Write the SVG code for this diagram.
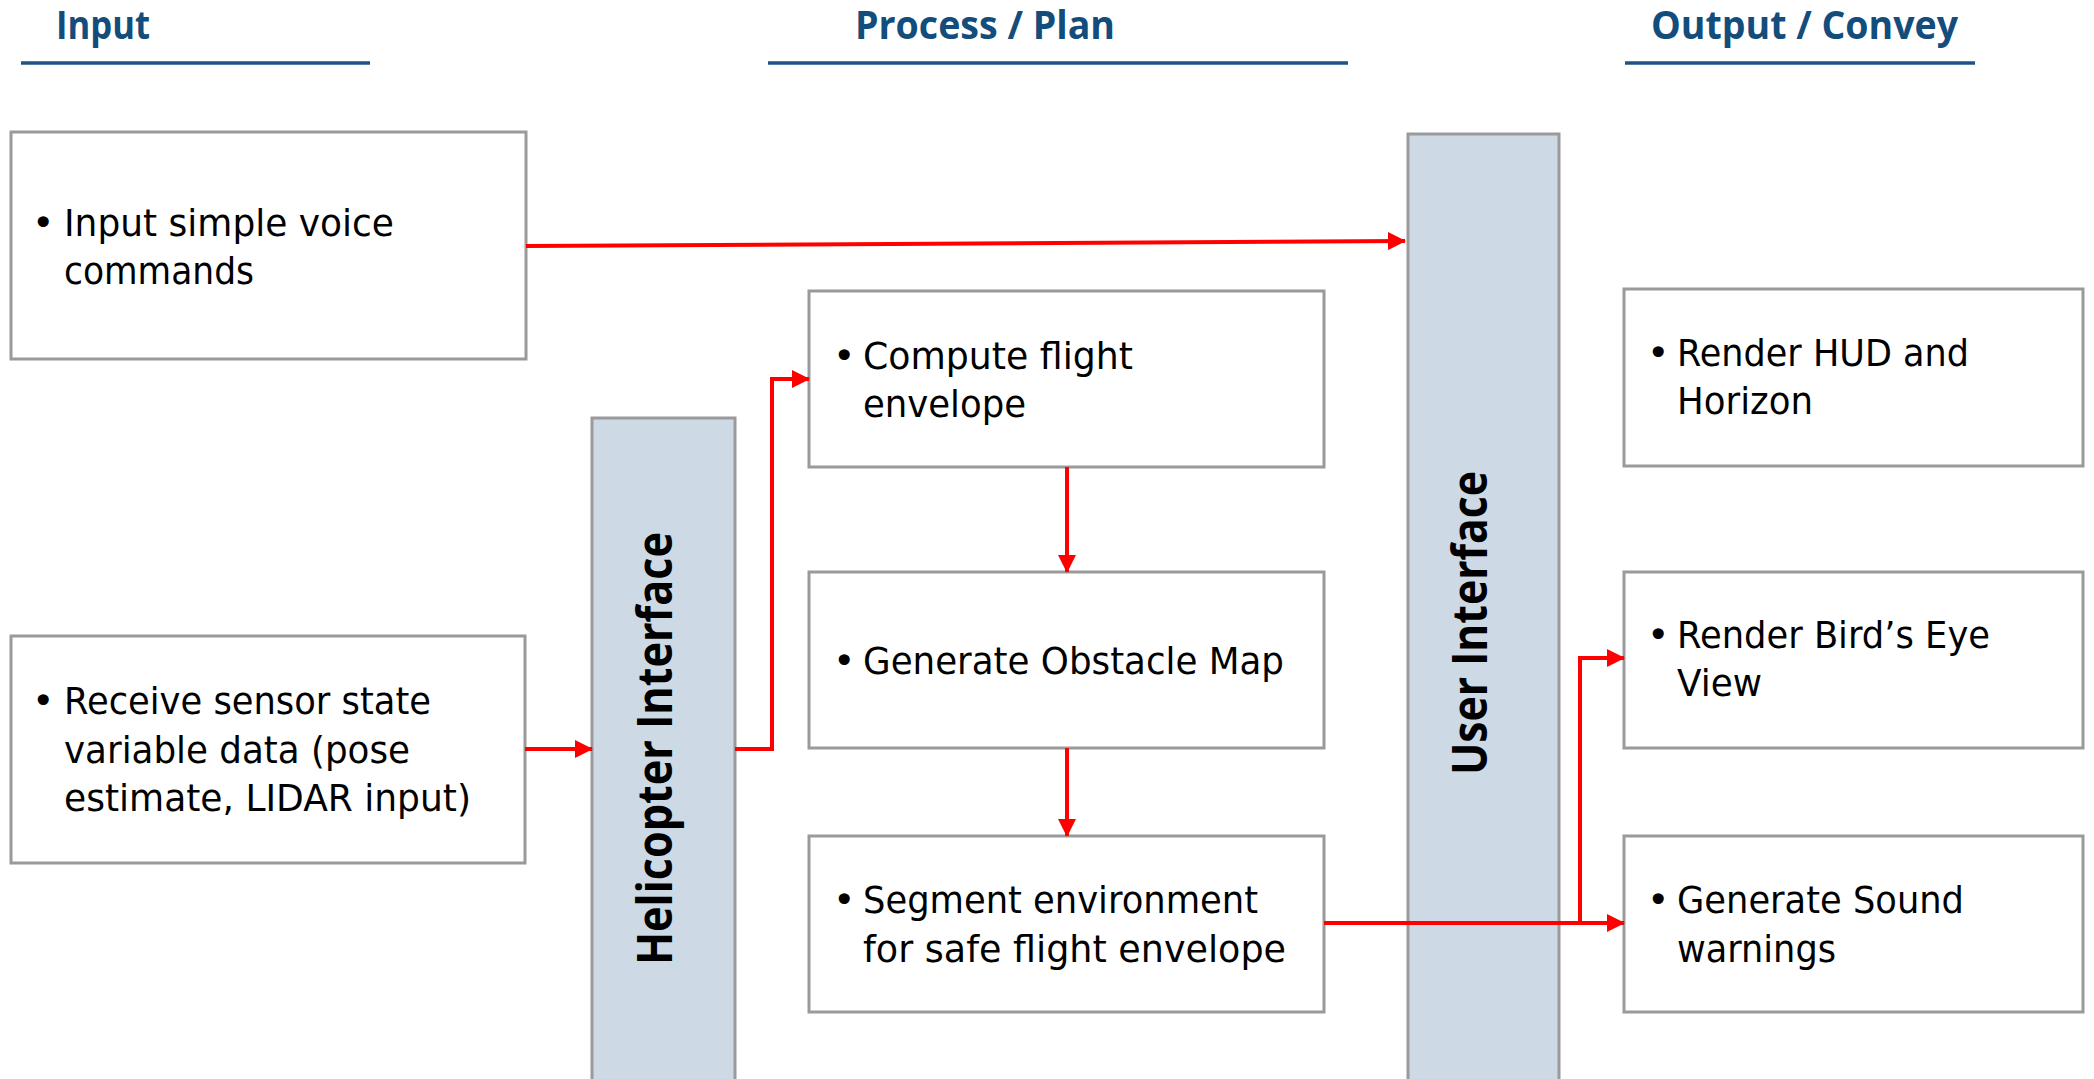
<svg xmlns="http://www.w3.org/2000/svg" width="2094" height="1079" viewBox="0 0 2094 1079">
<style>
.hdr{font-family:"Open Sans","Liberation Sans",sans-serif;font-weight:700;font-size:40px;fill:#124D7C}
.rule{stroke:#1F5384;stroke-width:3.5}
.box{fill:#FFFFFF;stroke:#9A9A9A;stroke-width:3}
.bar{fill:#CDDAE5;stroke:#9A9A9A;stroke-width:3}
.t{font-family:"DejaVu Sans","Liberation Sans",sans-serif;font-size:38px;fill:#000}
.vt{font-family:"Open Sans","DejaVu Sans",sans-serif;font-weight:bold;font-size:48px;fill:#000}
.c{fill:none;stroke:#FF0000;stroke-width:4}
</style>
<defs>
<marker id="ah" markerUnits="userSpaceOnUse" markerWidth="18" markerHeight="18" refX="17" refY="9" orient="auto">
<path d="M0,0 L18,9 L0,18 z" fill="#FF0000"/>
</marker>
</defs>
<rect width="2094" height="1079" fill="#FFFFFF"/>
<g id="headers">
<text class="hdr" x="56" y="39" textLength="94" lengthAdjust="spacingAndGlyphs">Input</text>
<line class="rule" x1="21" y1="63" x2="370" y2="63"/>
<text class="hdr" x="855" y="39" textLength="260" lengthAdjust="spacingAndGlyphs">Process / Plan</text>
<line class="rule" x1="768" y1="63" x2="1348" y2="63"/>
<text class="hdr" x="1651" y="39" textLength="307" lengthAdjust="spacingAndGlyphs">Output / Convey</text>
<line class="rule" x1="1625" y1="63" x2="1975" y2="63"/>
</g>
<g id="node-voice">
<rect class="box" x="11" y="132" width="515" height="227"/>
<text class="t" x="32" y="236">•</text>
<text class="t" x="64" y="236" textLength="330" lengthAdjust="spacingAndGlyphs">Input simple voice</text>
<text class="t" x="64" y="284" textLength="190" lengthAdjust="spacingAndGlyphs">commands</text>
</g>
<g id="node-sensor">
<rect class="box" x="11" y="636" width="514" height="227"/>
<text class="t" x="32" y="714">•</text>
<text class="t" x="64" y="714" textLength="367" lengthAdjust="spacingAndGlyphs">Receive sensor state</text>
<text class="t" x="64" y="763" textLength="346" lengthAdjust="spacingAndGlyphs">variable data (pose</text>
<text class="t" x="64" y="811" textLength="407" lengthAdjust="spacingAndGlyphs">estimate, LIDAR input)</text>
</g>
<g id="node-heli">
<rect class="bar" x="592" y="418" width="143" height="670"/>
<text class="vt" transform="translate(672,965) rotate(-90)" x="0" y="0" textLength="433" lengthAdjust="spacingAndGlyphs">Helicopter Interface</text>
</g>
<g id="node-compute">
<rect class="box" x="809" y="291" width="515" height="176"/>
<text class="t" x="833" y="369">•</text>
<text class="t" x="863" y="369" textLength="270" lengthAdjust="spacingAndGlyphs">Compute flight</text>
<text class="t" x="863" y="417" textLength="163" lengthAdjust="spacingAndGlyphs">envelope</text>
</g>
<g id="node-obstacle">
<rect class="box" x="809" y="572" width="515" height="176"/>
<text class="t" x="833" y="674">•</text>
<text class="t" x="863" y="674" textLength="421" lengthAdjust="spacingAndGlyphs">Generate Obstacle Map</text>
</g>
<g id="node-segment">
<rect class="box" x="809" y="836" width="515" height="176"/>
<text class="t" x="833" y="913">•</text>
<text class="t" x="863" y="913" textLength="395" lengthAdjust="spacingAndGlyphs">Segment environment</text>
<text class="t" x="863" y="962" textLength="423" lengthAdjust="spacingAndGlyphs">for safe flight envelope</text>
</g>
<g id="node-ui">
<rect class="bar" x="1408" y="134" width="151" height="954"/>
<text class="vt" transform="translate(1487,775) rotate(-90)" x="0" y="0" textLength="304" lengthAdjust="spacingAndGlyphs">User Interface</text>
</g>
<g id="node-hud">
<rect class="box" x="1624" y="289" width="459" height="177"/>
<text class="t" x="1647" y="366">•</text>
<text class="t" x="1677" y="366" textLength="292" lengthAdjust="spacingAndGlyphs">Render HUD and</text>
<text class="t" x="1677" y="414" textLength="136" lengthAdjust="spacingAndGlyphs">Horizon</text>
</g>
<g id="node-bird">
<rect class="box" x="1624" y="572" width="459" height="176"/>
<text class="t" x="1647" y="648">•</text>
<text class="t" x="1677" y="648" textLength="313" lengthAdjust="spacingAndGlyphs">Render Bird’s Eye</text>
<text class="t" x="1677" y="696" textLength="85" lengthAdjust="spacingAndGlyphs">View</text>
</g>
<g id="node-sound">
<rect class="box" x="1624" y="836" width="459" height="176"/>
<text class="t" x="1647" y="913">•</text>
<text class="t" x="1677" y="913" textLength="287" lengthAdjust="spacingAndGlyphs">Generate Sound</text>
<text class="t" x="1677" y="962" textLength="159" lengthAdjust="spacingAndGlyphs">warnings</text>
</g>
<g id="connectors">
<line class="c" x1="526" y1="246" x2="1405" y2="241" marker-end="url(#ah)"/>
<line class="c" x1="525" y1="749" x2="592" y2="749" marker-end="url(#ah)"/>
<polyline class="c" points="735,749 772,749 772,379 809,379" marker-end="url(#ah)"/>
<line class="c" x1="1067" y1="467" x2="1067" y2="572" marker-end="url(#ah)"/>
<line class="c" x1="1067" y1="748" x2="1067" y2="836" marker-end="url(#ah)"/>
<line class="c" x1="1324" y1="923" x2="1624" y2="923" marker-end="url(#ah)"/>
<polyline class="c" points="1580,923 1580,658 1624,658" marker-end="url(#ah)"/>
</g>
</svg>
